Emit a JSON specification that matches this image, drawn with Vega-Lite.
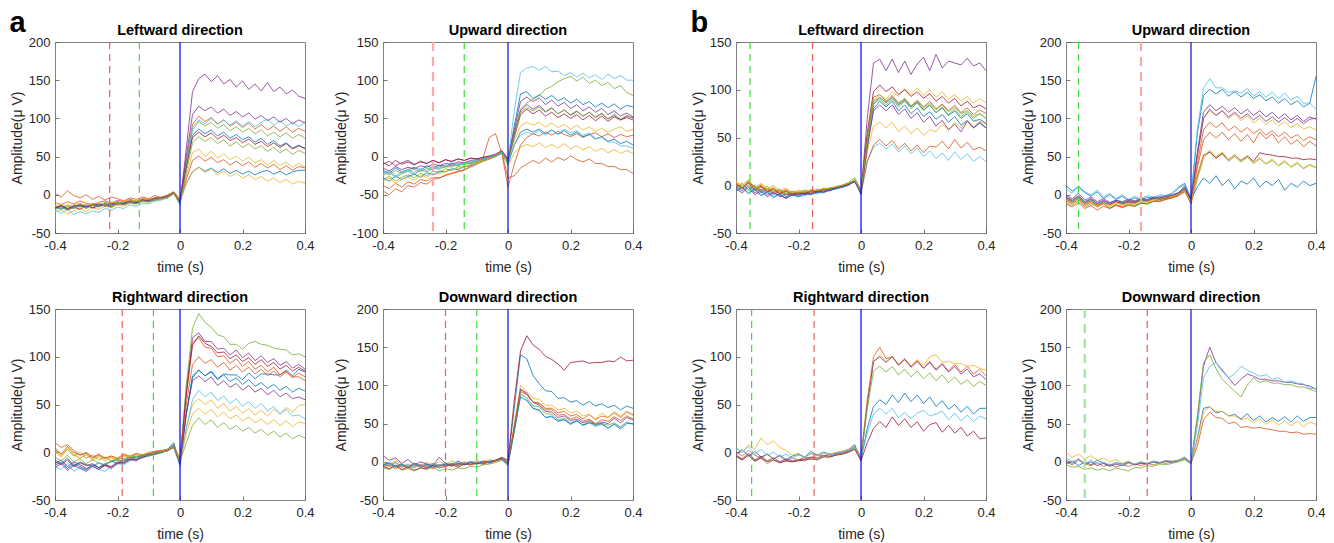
{
"$schema":"https://vega.github.io/schema/vega-lite/v6.json",
"background":"white",
"padding":{"left":9,"top":9,"right":5,"bottom":0},
"datasets":{
"times":[{"i":1,"t":-0.4},{"i":2,"t":-0.38},{"i":3,"t":-0.36},{"i":4,"t":-0.34},{"i":5,"t":-0.32},{"i":6,"t":-0.3},{"i":7,"t":-0.28},{"i":8,"t":-0.26},{"i":9,"t":-0.24},{"i":10,"t":-0.22},{"i":11,"t":-0.2},{"i":12,"t":-0.18},{"i":13,"t":-0.16},{"i":14,"t":-0.14},{"i":15,"t":-0.12},{"i":16,"t":-0.1},{"i":17,"t":-0.08},{"i":18,"t":-0.06},{"i":19,"t":-0.04},{"i":20,"t":-0.02},{"i":21,"t":0},{"i":22,"t":0.02},{"i":23,"t":0.04},{"i":24,"t":0.06},{"i":25,"t":0.08},{"i":26,"t":0.1},{"i":27,"t":0.12},{"i":28,"t":0.14},{"i":29,"t":0.16},{"i":30,"t":0.18},{"i":31,"t":0.2},{"i":32,"t":0.22},{"i":33,"t":0.24},{"i":34,"t":0.26},{"i":35,"t":0.28},{"i":36,"t":0.3},{"i":37,"t":0.32},{"i":38,"t":0.34},{"i":39,"t":0.36},{"i":40,"t":0.38},{"i":41,"t":0.4}],
"rl":[{"p":1,"t":-0.225,"k":"red"},{"p":1,"t":-0.13,"k":"green"},{"p":1,"t":0,"k":"blue"},
{"p":2,"t":-0.24,"k":"pink"},{"p":2,"t":-0.14,"k":"green"},{"p":2,"t":0,"k":"navy"},
{"p":3,"t":-0.185,"k":"red"},{"p":3,"t":-0.085,"k":"green"},{"p":3,"t":0,"k":"blue"},
{"p":4,"t":-0.2,"k":"red"},{"p":4,"t":-0.1,"k":"green"},{"p":4,"t":0,"k":"navy"},
{"p":5,"t":-0.355,"k":"green"},{"p":5,"t":-0.155,"k":"red"},{"p":5,"t":0,"k":"blue"},
{"p":6,"t":-0.36,"k":"green"},{"p":6,"t":-0.16,"k":"pink"},{"p":6,"t":0,"k":"navy"},
{"p":7,"t":-0.35,"k":"green"},{"p":7,"t":-0.15,"k":"red"},{"p":7,"t":0,"k":"blue"},
{"p":8,"t":-0.34,"k":"lgreen"},{"p":8,"t":-0.14,"k":"red"},{"p":8,"t":0,"k":"navy"}],
"tr":[
{"p":1,"s":0,"v":[-17,-14,-18,-15,-13,-16,-12,-15,-11,-13,-9,-12,-8,-10,-7,-6,-8,-3,-4,2,-9,38,78,86,80,85,77,82,74,79,72,76,69,74,66,71,64,68,61,65,60]},
{"p":1,"s":1,"v":[2,-3,5,-1,-4,0,-6,-2,-7,-3,-5,-8,-4,-6,-3,-5,-1,-4,0,4,-6,45,92,103,96,101,93,98,90,95,88,94,86,92,85,90,83,89,82,87,83]},
{"p":1,"s":2,"v":[-22,-20,-25,-21,-18,-22,-17,-19,-15,-17,-13,-15,-11,-12,-9,-10,-7,-6,-4,1,-10,25,55,60,50,57,48,54,46,51,44,49,42,46,39,45,38,43,36,41,36]},
{"p":1,"s":3,"v":[-18,-15,-19,-14,-16,-13,-17,-12,-14,-15,-10,-12,-8,-10,-6,-8,-4,-5,-2,3,-12,60,135,152,158,148,156,145,151,141,149,138,145,136,147,135,141,132,137,129,126]},
{"p":1,"s":4,"v":[-14,-18,-13,-16,-12,-15,-11,-14,-10,-12,-9,-11,-7,-9,-6,-7,-4,-5,-2,4,-7,40,85,96,90,95,87,92,84,89,82,87,80,85,77,82,76,81,74,79,74]},
{"p":1,"s":5,"v":[-20,-24,-19,-26,-22,-25,-21,-23,-18,-20,-16,-18,-13,-15,-11,-12,-8,-7,-4,2,-14,35,88,98,93,100,92,98,91,97,90,96,89,95,99,91,97,90,95,89,95]},
{"p":1,"s":6,"v":[-18,-15,-20,-16,-19,-14,-17,-15,-13,-16,-11,-13,-10,-11,-8,-9,-6,-5,-3,2,-8,35,75,82,76,81,73,78,71,75,68,73,66,70,63,68,62,67,60,64,61]},
{"p":1,"s":7,"v":[-16,-19,-15,-18,-14,-17,-13,-15,-12,-14,-10,-12,-9,-10,-7,-8,-5,-4,-2,3,-9,15,30,36,31,35,29,34,28,32,27,31,26,30,32,27,31,26,30,32,32]},
{"p":1,"s":8,"v":[-10,-13,-9,-12,-8,-11,-13,-10,-8,-11,-7,-9,-6,-8,-5,-6,-4,-3,-1,3,-6,20,45,51,44,49,42,46,39,44,38,43,36,41,35,40,33,38,32,37,35]},
{"p":1,"s":9,"v":[-15,-12,-16,-13,-11,-14,-12,-10,-13,-9,-11,-8,-10,-7,-8,-5,-6,-4,-3,2,-7,15,30,36,29,34,26,31,24,28,22,26,20,24,18,22,16,20,14,18,15]},
{"p":1,"s":10,"v":[-17,-14,-18,-15,-13,-16,-14,-12,-15,-11,-13,-10,-9,-11,-7,-8,-5,-4,-2,2,-10,50,105,116,110,115,107,112,104,109,102,107,99,104,97,102,95,100,93,98,94]},
{"p":1,"s":11,"v":[-19,-16,-20,-17,-15,-18,-14,-16,-13,-15,-11,-13,-10,-12,-8,-9,-6,-5,-3,2,-11,30,68,76,70,75,67,72,64,69,62,67,60,64,57,62,55,60,53,58,54]},
{"p":2,"s":0,"v":[-18,-22,-15,-20,-17,-14,-18,-12,-15,-11,-13,-9,-11,-8,-9,-6,-4,-2,1,6,-5,40,82,85,76,81,75,80,73,77,70,75,68,72,65,70,64,69,62,67,65]},
{"p":2,"s":1,"v":[-45,-50,-42,-46,-38,-40,-34,-36,-30,-28,-25,-22,-20,-18,-12,-8,-2,25,30,5,-40,-10,15,25,30,27,32,28,33,29,26,30,25,29,31,26,30,25,29,26,28]},
{"p":2,"s":2,"v":[-25,-20,-28,-22,-19,-24,-18,-20,-15,-17,-13,-14,-10,-11,-8,-6,-5,-1,3,8,-6,20,40,45,41,45,39,44,38,42,36,41,35,39,33,37,32,36,39,33,36]},
{"p":2,"s":3,"v":[-10,-6,-12,-8,-5,-10,-7,-9,-5,-8,-4,-6,-3,-5,-2,-3,-1,0,2,6,-4,35,72,78,72,77,68,74,66,71,63,68,60,65,58,63,55,60,53,57,52]},
{"p":2,"s":4,"v":[-30,-26,-32,-27,-24,-28,-22,-25,-19,-21,-16,-18,-13,-14,-10,-8,-6,-3,1,5,-8,30,62,70,75,80,88,92,98,102,105,99,104,96,100,93,97,89,93,84,80]},
{"p":2,"s":5,"v":[-22,-18,-25,-20,-17,-21,-15,-18,-13,-15,-11,-12,-9,-10,-7,-5,-3,-1,2,7,-5,60,110,116,118,113,118,111,112,106,110,104,109,103,107,101,108,102,106,100,100]},
{"p":2,"s":6,"v":[-8,-12,-5,-10,-7,-11,-6,-9,-5,-8,-4,-7,-3,-5,-2,-3,-1,1,3,8,-3,25,55,62,56,61,53,58,51,56,50,55,48,54,47,53,46,52,48,51,48]},
{"p":2,"s":7,"v":[-28,-32,-25,-30,-26,-23,-27,-21,-24,-19,-20,-16,-17,-13,-12,-9,-6,-3,0,4,-10,15,32,36,32,36,30,35,29,34,28,32,26,29,23,26,20,23,17,20,15]},
{"p":2,"s":8,"v":[-38,-42,-35,-40,-33,-36,-30,-32,-27,-28,-24,-22,-19,-17,-14,-10,-6,-3,0,6,-28,-25,-15,-10,-5,-9,-2,-7,-1,-5,1,-4,-7,-3,-9,-9,-13,-13,-17,-17,-22]},
{"p":2,"s":9,"v":[-32,-28,-35,-30,-27,-31,-25,-27,-22,-23,-19,-18,-15,-14,-11,-9,-6,-3,0,5,-12,5,12,16,13,18,12,16,11,17,10,14,9,13,7,11,5,9,4,8,4]},
{"p":2,"s":10,"v":[-15,-19,-13,-17,-14,-16,-12,-14,-10,-12,-9,-10,-7,-8,-5,-4,-3,-1,2,6,-6,30,60,68,62,67,59,64,56,61,54,59,53,58,51,56,49,54,48,53,51]},
{"p":2,"s":11,"v":[-20,-24,-18,-22,-19,-17,-20,-15,-17,-13,-14,-11,-12,-9,-8,-6,-4,-2,1,5,-7,28,58,64,60,65,58,63,56,61,55,60,53,58,52,57,50,55,49,54,50]},
{"p":2,"s":12,"v":[-24,-20,-27,-22,-19,-23,-17,-20,-15,-16,-12,-13,-10,-9,-7,-5,-3,-1,2,6,-8,15,28,32,29,34,28,35,30,36,31,34,28,31,24,25,19,19,14,14,11]},
{"p":3,"s":0,"v":[-8,-12,-6,-14,-10,-13,-15,-11,-14,-9,-12,-7,-8,-4,-6,-2,-1,0,3,8,-12,40,80,86,80,85,77,82,81,81,76,83,77,82,82,81,81,86,80,87,84]},
{"p":3,"s":1,"v":[10,5,8,2,-3,0,-5,-2,-6,-4,-7,-3,-5,-2,-3,-1,0,2,1,6,-8,60,115,120,110,109,100,101,93,98,90,95,87,91,84,89,81,85,79,79,75]},
{"p":3,"s":2,"v":[0,-5,3,-3,-6,-2,-8,-5,-9,-6,-8,-4,-6,-3,-4,-1,0,1,3,6,-10,25,50,56,50,55,46,51,43,48,41,46,39,44,38,45,40,47,42,49,50]},
{"p":3,"s":3,"v":[-12,-8,-15,-10,-13,-17,-14,-18,-13,-16,-11,-12,-8,-9,-5,-4,-2,0,2,5,-10,65,120,125,116,116,108,109,102,107,99,104,96,101,94,98,91,95,88,92,87]},
{"p":3,"s":4,"v":[5,-2,3,-4,0,-6,-3,-8,-5,-9,-6,-7,-4,-5,-2,-3,0,1,3,7,-8,70,130,145,136,131,123,121,113,113,108,114,116,113,112,109,108,107,102,103,100]},
{"p":3,"s":5,"v":[-15,-18,-12,-20,-16,-19,-14,-18,-20,-15,-12,-13,-9,-8,-6,-4,-2,-1,2,5,-15,25,55,65,58,63,54,59,51,56,48,53,46,51,43,48,40,45,38,39,35]},
{"p":3,"s":6,"v":[-10,-13,-8,-15,-11,-14,-12,-16,-13,-15,-10,-11,-7,-8,-5,-3,-2,0,2,6,-9,60,112,122,114,111,104,105,98,102,95,99,92,97,90,94,87,91,85,89,85]},
{"p":3,"s":7,"v":[-14,-10,-17,-12,-15,-18,-13,-16,-12,-10,-8,-9,-5,-6,-3,-2,0,1,3,10,-13,40,78,86,80,84,76,81,74,78,71,76,69,73,67,71,65,69,63,67,64]},
{"p":3,"s":8,"v":[3,-2,6,0,-3,-1,-6,-3,-7,-4,-6,-2,-4,-1,-3,0,1,2,3,7,-7,50,92,100,93,97,89,94,86,91,84,89,82,87,80,85,79,84,78,83,79]},
{"p":3,"s":9,"v":[2,-4,5,-2,-6,-3,-8,-4,-7,-5,-6,-3,-5,-2,-3,0,-1,1,3,6,-9,20,40,46,40,45,37,42,35,39,33,37,31,35,29,34,28,33,27,32,30]},
{"p":3,"s":10,"v":[-16,-12,-19,-14,-17,-20,-15,-18,-14,-17,-12,-10,-7,-8,-4,-3,-1,0,2,5,-12,40,75,80,74,79,70,75,68,72,65,70,63,67,60,65,58,62,56,58,55]},
{"p":3,"s":11,"v":[-5,-9,-3,-10,-7,-12,-8,-11,-13,-9,-8,-10,-6,-7,-4,-3,-1,0,2,5,-10,10,28,36,29,34,26,31,24,28,22,26,20,24,18,22,16,20,14,18,15]},
{"p":4,"s":0,"v":[-5,-2,-7,-4,-8,-5,-6,-3,-7,-4,-5,-2,-4,-1,-3,0,-2,1,2,5,0,70,140,135,113,102,93,92,83,84,78,80,74,79,73,76,71,74,68,73,70]},
{"p":4,"s":1,"v":[-3,-6,-1,-7,-4,-8,-3,-6,-2,-5,-3,-6,-2,-4,-1,-3,0,-2,1,3,-2,45,95,88,78,77,70,70,64,66,60,62,56,62,55,60,58,64,58,65,62]},
{"p":4,"s":2,"v":[0,-4,2,-3,-6,-2,-5,-1,-4,0,-3,1,-2,0,-1,2,0,3,1,4,-1,50,100,92,83,82,74,74,68,70,64,66,60,62,56,64,58,66,60,67,60]},
{"p":4,"s":3,"v":[8,2,5,-2,3,-4,0,-3,-5,6,-2,-4,1,-3,0,-2,1,-1,2,4,-3,45,95,90,78,74,66,65,58,60,54,56,51,54,49,52,50,57,51,58,55]},
{"p":4,"s":4,"v":[-8,-10,-6,-11,-9,-12,-8,-10,-7,-12,-9,-11,-8,-9,-6,-7,-4,-3,-1,2,-5,40,88,84,73,72,63,62,55,57,51,54,48,53,47,50,48,51,46,52,49]},
{"p":4,"s":5,"v":[-2,-5,0,-6,-3,-7,-4,-6,-2,-5,-1,-4,0,-3,1,-2,0,-1,2,3,-4,40,90,82,70,68,58,60,53,56,50,53,48,51,46,49,44,50,45,52,49]},
{"p":4,"s":6,"v":[-6,-9,-4,-10,-7,-11,-8,-9,-5,-8,-6,-4,-7,-3,-4,-2,-3,0,2,6,2,80,145,165,153,147,138,134,128,120,130,131,132,129,130,130,132,131,137,132,133]},
{"p":4,"s":7,"v":[-4,-1,-6,-3,-7,-2,-5,-8,-4,-6,-3,-5,-2,-4,-1,-3,0,-1,1,4,-2,40,85,80,70,67,58,59,53,55,49,54,48,51,49,50,44,49,43,50,50]},
{"p":4,"s":8,"v":[-7,-4,-9,-5,-8,-3,-7,-5,-9,-4,-6,-3,-5,-2,-4,-1,-2,0,2,4,-3,45,92,88,78,76,68,68,61,62,56,59,53,56,50,55,53,59,54,60,56]},
{"p":5,"s":0,"v":[-3,2,-5,0,-8,-4,-10,-6,-12,-8,-11,-7,-9,-6,-7,-5,-3,-2,0,5,-9,45,85,92,86,92,84,89,82,87,79,84,76,81,73,78,70,75,67,69,65]},
{"p":5,"s":1,"v":[2,-2,4,-3,0,-6,-3,-8,-5,-9,-7,-10,-6,-8,-4,-5,-2,-1,1,4,-6,48,92,95,88,94,86,91,83,89,82,88,80,85,78,84,76,81,74,79,75]},
{"p":5,"s":2,"v":[3,-1,5,-4,1,-5,-2,-7,-4,-8,-6,-9,-5,-7,-3,-4,-2,0,2,5,-7,45,88,95,90,98,93,101,95,102,94,100,92,98,90,95,88,93,86,91,86]},
{"p":5,"s":3,"v":[-2,-6,0,-8,-4,-10,-7,-12,-9,-11,-8,-10,-6,-8,-5,-6,-3,-2,0,4,-8,70,128,132,120,132,118,130,116,127,134,120,137,123,130,128,126,133,125,128,120]},
{"p":5,"s":4,"v":[0,-4,2,-6,-2,-8,-5,-10,-7,-11,-9,-8,-6,-7,-4,-3,-2,0,3,8,-5,48,88,92,87,92,85,90,83,88,81,86,79,84,77,82,75,78,72,75,70]},
{"p":5,"s":5,"v":[-5,-1,-8,-3,-10,-6,-12,-9,-14,-10,-12,-11,-8,-9,-6,-5,-3,-2,0,4,-10,25,40,44,38,43,35,41,33,39,30,36,28,34,26,35,27,33,25,30,25]},
{"p":5,"s":6,"v":[1,-3,3,-5,-1,-7,-4,-9,-6,-10,-8,-9,-6,-7,-4,-5,-2,-1,1,5,-6,55,98,105,98,103,95,100,93,98,91,96,88,93,86,91,83,88,81,84,80]},
{"p":5,"s":7,"v":[-6,-2,-9,-4,-11,-7,-13,-9,-14,-10,-12,-9,-10,-7,-8,-5,-4,-2,1,4,-8,40,80,88,82,88,78,84,75,81,72,77,69,74,66,72,63,68,60,65,60]},
{"p":5,"s":8,"v":[0,-4,3,-2,-6,-3,-8,-5,-10,-7,-9,-6,-8,-5,-6,-3,-2,-1,1,4,-7,25,42,48,41,47,38,44,36,42,34,41,40,46,38,48,39,45,37,40,36]},
{"p":5,"s":9,"v":[4,0,6,-2,2,-4,0,-6,-3,-8,-5,-7,-4,-6,-3,-4,-1,0,2,5,-6,35,62,66,60,66,56,62,54,60,52,58,56,64,58,66,60,68,61,67,64]},
{"p":5,"s":10,"v":[-4,-8,-2,-10,-6,-12,-8,-11,-13,-9,-10,-8,-9,-6,-7,-4,-3,-1,1,4,-9,40,78,84,78,84,74,80,70,76,66,72,62,68,58,64,56,67,60,66,60]},
{"p":5,"s":11,"v":[1,-3,4,-2,-5,-1,-7,-4,-9,-6,-8,-5,-7,-4,-5,-3,-2,0,2,6,-5,45,85,90,84,90,82,88,80,86,78,84,76,82,74,80,72,77,70,75,70]},
{"p":6,"s":0,"v":[12,5,10,3,-2,4,-5,0,-6,-2,-8,-4,-7,-3,-5,-2,-1,2,10,15,-5,80,130,138,132,138,129,135,128,134,126,131,123,128,120,126,118,123,115,120,155]},
{"p":6,"s":1,"v":[-8,-12,-6,-14,-10,-16,-12,-18,-14,-16,-13,-15,-11,-12,-9,-8,-6,-4,-1,5,-10,40,85,95,88,94,84,90,82,88,80,86,78,84,76,82,74,79,71,76,72]},
{"p":6,"s":2,"v":[-5,-9,-3,-11,-7,-13,-9,-15,-11,-13,-10,-12,-8,-9,-6,-5,-4,-2,1,8,-8,50,100,110,104,110,100,106,97,103,94,100,92,98,90,96,88,93,86,89,85]},
{"p":6,"s":3,"v":[-3,-7,-1,-9,-5,-11,-7,-12,-9,-11,-8,-10,-6,-8,-5,-4,-3,-1,2,12,-6,55,108,118,110,116,108,114,106,112,104,110,102,108,100,106,98,104,96,102,99]},
{"p":6,"s":4,"v":[-10,-14,-8,-16,-12,-15,-11,-17,-13,-15,-12,-14,-10,-11,-8,-7,-5,-3,0,6,-12,20,48,56,48,54,44,50,43,49,41,47,40,45,38,43,36,41,34,39,35]},
{"p":6,"s":5,"v":[8,2,12,4,0,6,-3,2,-5,0,-6,-2,-5,-1,-3,0,-1,2,8,14,-4,85,140,152,140,140,134,136,133,139,129,135,128,134,126,133,124,129,120,120,112]},
{"p":6,"s":6,"v":[-6,-10,-4,-12,-8,-14,-10,-13,-9,-12,-10,-11,-7,-9,-5,-6,-4,-2,1,7,-7,25,52,56,48,54,46,52,45,51,44,55,53,52,50,50,48,48,46,47,46]},
{"p":6,"s":7,"v":[-4,-8,-2,-10,-6,-12,-8,-11,-7,-10,-8,-9,-6,-7,-4,-5,-3,-1,2,8,-6,10,22,15,25,12,20,8,18,14,22,10,18,12,20,6,15,10,18,12,15]},
{"p":6,"s":8,"v":[-12,-16,-10,-18,-14,-20,-15,-18,-13,-17,-14,-15,-11,-12,-8,-9,-6,-4,-1,4,-12,35,72,82,74,82,72,80,70,79,68,82,73,80,68,76,66,72,63,70,64]},
{"p":6,"s":9,"v":[-7,-11,-5,-13,-9,-15,-11,-14,-10,-13,-11,-12,-8,-9,-6,-5,-3,-2,1,6,-9,25,50,58,50,56,46,52,44,50,42,49,41,47,39,45,37,43,35,40,36]},
{"p":6,"s":10,"v":[-1,-5,2,-7,-3,-9,-5,-10,-7,-9,-6,-8,-5,-6,-3,-4,-2,0,3,10,-5,50,100,112,104,110,102,108,100,106,98,104,96,102,95,101,94,100,93,99,100]},
{"p":7,"s":0,"v":[-2,3,-4,1,-5,-2,-7,-3,-8,-4,-2,-5,1,-3,0,-2,-1,1,3,8,-8,25,48,55,50,60,52,62,53,60,51,58,48,54,45,50,42,48,40,46,46]},
{"p":7,"s":1,"v":[0,-4,2,-3,-6,-2,-7,-4,-9,-6,-8,-5,-6,-3,-4,-2,-1,0,2,6,-5,55,100,110,98,100,92,98,90,96,88,95,87,93,85,92,84,90,82,87,80]},
{"p":7,"s":2,"v":[5,0,8,3,15,8,12,5,2,-3,-1,-5,-2,-4,-1,-2,0,1,3,6,-4,50,95,102,95,101,92,98,90,97,91,100,102,94,95,93,93,90,91,88,86]},
{"p":7,"s":3,"v":[-3,-7,-1,-8,-4,-9,-6,-10,-7,-9,-8,-7,-5,-6,-3,-4,-2,-1,1,5,-7,50,95,100,94,100,91,97,89,95,88,94,86,92,84,90,82,87,79,82,76]},
{"p":7,"s":4,"v":[-5,-8,-3,-10,-6,-12,-8,-11,-9,-10,-8,-9,-6,-7,-4,-5,-3,-2,0,4,-6,45,85,90,84,90,81,87,79,85,77,83,75,81,73,79,71,76,69,74,70]},
{"p":7,"s":5,"v":[4,0,6,-2,3,-3,0,-5,-2,-6,-3,-5,-1,-3,0,-2,-1,0,2,5,-6,20,40,46,40,46,36,42,35,41,44,38,40,43,34,41,33,39,32,38,35]},
{"p":7,"s":6,"v":[-4,-8,-3,-9,-6,-10,-8,-11,-9,-10,-9,-8,-7,-8,-5,-5,-3,-2,0,3,-9,10,25,32,26,37,28,35,26,32,22,29,31,21,28,20,26,17,22,14,15]},
{"p":8,"s":0,"v":[-3,1,-5,0,-4,2,-2,-5,-1,-3,0,-4,-1,-3,0,-2,1,-1,2,5,-2,30,70,72,64,66,60,62,56,63,54,60,52,58,53,59,52,60,53,58,58]},
{"p":8,"s":1,"v":[0,-4,2,-3,-5,-1,-6,-3,-7,-4,-6,-3,-5,-2,-4,-1,-2,0,1,3,-2,20,55,65,58,57,50,52,45,46,44,45,43,42,40,40,38,39,36,37,36]},
{"p":8,"s":2,"v":[12,6,10,4,8,2,5,0,3,-2,1,-3,0,-2,1,-1,0,2,1,4,0,28,65,72,66,66,60,60,55,57,51,56,49,55,48,54,47,53,46,52,49]},
{"p":8,"s":3,"v":[2,-2,4,-3,0,-5,-2,-6,-3,-5,-1,-4,-2,-3,0,-1,1,0,2,6,-1,55,125,150,130,120,110,100,108,115,112,108,108,106,106,104,104,102,101,99,95]},
{"p":8,"s":4,"v":[-4,-7,-6,-10,-8,-11,-9,-12,-8,-10,-12,-7,-8,-5,-6,-3,-4,-2,0,3,-3,60,130,140,122,108,100,92,85,100,110,104,106,103,103,101,101,98,98,95,92]},
{"p":8,"s":5,"v":[5,0,3,-2,2,-3,0,-4,-1,-5,-2,-3,0,-2,1,-1,2,0,2,5,-1,45,110,125,130,118,110,115,125,120,116,112,114,108,110,104,106,103,102,96,96]}
]},
"hconcat":[
{"title":{"text":"a","anchor":"start","frame":"bounds","fontSize":29,"fontWeight":"bold","offset":0,"dy":16},
 "spacing":14,
 "vconcat":[
 {"spacing":18,"hconcat":[
  {"title":{"text":"Leftward direction","offset":-2},"width":250,"height":191,"resolve":{"scale":{"color":"independent"}},"layer":[
   {"data":{"name":"tr"},"transform":[{"filter":"datum.p==1"},{"flatten":["v"]},{"window":[{"op":"row_number","as":"i"}],"groupby":["s"]},{"lookup":"i","from":{"data":{"name":"times"},"key":"i","fields":["t"]}}],
    "mark":{"type":"line","strokeWidth":0.8,"clip":true},
    "encoding":{"x":{"field":"t","type":"quantitative","scale":{"domain":[-0.4,0.4],"nice":false},"axis":{"values":[-0.4,-0.2,0,0.2,0.4],"title":"time (s)"}},
     "y":{"field":"v","type":"quantitative","scale":{"domain":[-50,200],"nice":false},"axis":{"values":[-50,0,50,100,150,200],"title":"Amplitude(μ V)","minExtent":27,"maxExtent":27}},
     "color":{"field":"s","type":"nominal","scale":{"domain":[0,1,2,3,4,5,6,7,8,9,10,11,12,13],"range":["#0072BD","#D95319","#EDB120","#7E2F8E","#77AC30","#4DBEEE","#A2142F","#0072BD","#D95319","#EDB120","#7E2F8E","#77AC30","#4DBEEE","#A2142F"]},"legend":null}}},
   {"data":{"name":"rl"},"transform":[{"filter":"datum.p==1"}],"mark":{"type":"rule"},
    "encoding":{"x":{"field":"t","type":"quantitative"},
     "color":{"field":"k","type":"nominal","scale":{"domain":["red","green","pink","lgreen","blue","navy"],"range":["#e8605a","#3ddc3d","#ffa8a8","#9be89b","#0000ff","#1010c8"]},"legend":null},
     "strokeDash":{"field":"k","type":"nominal","scale":{"domain":["red","green","pink","lgreen","blue","navy"],"range":[[7,5],[7,5],[9,6],[9,6],[1,0],[1,0]]},"legend":null},
     "strokeWidth":{"field":"k","type":"ordinal","scale":{"type":"ordinal","domain":["red","green","pink","lgreen","blue","navy"],"range":[1.2,1.2,2.2,2.2,1.2,1.2]},"legend":null}}}
  ]},
  {"title":{"text":"Upward direction","offset":-2},"width":250,"height":191,"resolve":{"scale":{"color":"independent"}},"layer":[
   {"data":{"name":"tr"},"transform":[{"filter":"datum.p==2"},{"flatten":["v"]},{"window":[{"op":"row_number","as":"i"}],"groupby":["s"]},{"lookup":"i","from":{"data":{"name":"times"},"key":"i","fields":["t"]}}],
    "mark":{"type":"line","strokeWidth":0.8,"clip":true},
    "encoding":{"x":{"field":"t","type":"quantitative","scale":{"domain":[-0.4,0.4],"nice":false},"axis":{"values":[-0.4,-0.2,0,0.2,0.4],"title":"time (s)"}},
     "y":{"field":"v","type":"quantitative","scale":{"domain":[-100,150],"nice":false},"axis":{"values":[-100,-50,0,50,100,150],"title":"Amplitude(μ V)","minExtent":31,"maxExtent":31}},
     "color":{"field":"s","type":"nominal","scale":{"domain":[0,1,2,3,4,5,6,7,8,9,10,11,12,13],"range":["#0072BD","#D95319","#EDB120","#7E2F8E","#77AC30","#4DBEEE","#A2142F","#0072BD","#D95319","#EDB120","#7E2F8E","#77AC30","#4DBEEE","#A2142F"]},"legend":null}}},
   {"data":{"name":"rl"},"transform":[{"filter":"datum.p==2"}],"mark":{"type":"rule"},
    "encoding":{"x":{"field":"t","type":"quantitative"},
     "color":{"field":"k","type":"nominal","scale":{"domain":["red","green","pink","lgreen","blue","navy"],"range":["#e8605a","#3ddc3d","#ffa8a8","#9be89b","#0000ff","#1010c8"]},"legend":null},
     "strokeDash":{"field":"k","type":"nominal","scale":{"domain":["red","green","pink","lgreen","blue","navy"],"range":[[7,5],[7,5],[9,6],[9,6],[1,0],[1,0]]},"legend":null},
     "strokeWidth":{"field":"k","type":"ordinal","scale":{"type":"ordinal","domain":["red","green","pink","lgreen","blue","navy"],"range":[1.2,1.2,2.2,2.2,1.2,1.2]},"legend":null}}}
  ]}
 ]},
 {"spacing":18,"hconcat":[
  {"title":{"text":"Rightward direction","offset":-2},"width":250,"height":191,"resolve":{"scale":{"color":"independent"}},"layer":[
   {"data":{"name":"tr"},"transform":[{"filter":"datum.p==3"},{"flatten":["v"]},{"window":[{"op":"row_number","as":"i"}],"groupby":["s"]},{"lookup":"i","from":{"data":{"name":"times"},"key":"i","fields":["t"]}}],
    "mark":{"type":"line","strokeWidth":0.8,"clip":true},
    "encoding":{"x":{"field":"t","type":"quantitative","scale":{"domain":[-0.4,0.4],"nice":false},"axis":{"values":[-0.4,-0.2,0,0.2,0.4],"title":"time (s)"}},
     "y":{"field":"v","type":"quantitative","scale":{"domain":[-50,150],"nice":false},"axis":{"values":[-50,0,50,100,150],"title":"Amplitude(μ V)","minExtent":27,"maxExtent":27}},
     "color":{"field":"s","type":"nominal","scale":{"domain":[0,1,2,3,4,5,6,7,8,9,10,11,12,13],"range":["#0072BD","#D95319","#EDB120","#7E2F8E","#77AC30","#4DBEEE","#A2142F","#0072BD","#D95319","#EDB120","#7E2F8E","#77AC30","#4DBEEE","#A2142F"]},"legend":null}}},
   {"data":{"name":"rl"},"transform":[{"filter":"datum.p==3"}],"mark":{"type":"rule"},
    "encoding":{"x":{"field":"t","type":"quantitative"},
     "color":{"field":"k","type":"nominal","scale":{"domain":["red","green","pink","lgreen","blue","navy"],"range":["#e8605a","#3ddc3d","#ffa8a8","#9be89b","#0000ff","#1010c8"]},"legend":null},
     "strokeDash":{"field":"k","type":"nominal","scale":{"domain":["red","green","pink","lgreen","blue","navy"],"range":[[7,5],[7,5],[9,6],[9,6],[1,0],[1,0]]},"legend":null},
     "strokeWidth":{"field":"k","type":"ordinal","scale":{"type":"ordinal","domain":["red","green","pink","lgreen","blue","navy"],"range":[1.2,1.2,2.2,2.2,1.2,1.2]},"legend":null}}}
  ]},
  {"title":{"text":"Downward direction","offset":-2},"width":250,"height":191,"resolve":{"scale":{"color":"independent"}},"layer":[
   {"data":{"name":"tr"},"transform":[{"filter":"datum.p==4"},{"flatten":["v"]},{"window":[{"op":"row_number","as":"i"}],"groupby":["s"]},{"lookup":"i","from":{"data":{"name":"times"},"key":"i","fields":["t"]}}],
    "mark":{"type":"line","strokeWidth":0.8,"clip":true},
    "encoding":{"x":{"field":"t","type":"quantitative","scale":{"domain":[-0.4,0.4],"nice":false},"axis":{"values":[-0.4,-0.2,0,0.2,0.4],"title":"time (s)"}},
     "y":{"field":"v","type":"quantitative","scale":{"domain":[-50,200],"nice":false},"axis":{"values":[-50,0,50,100,150,200],"title":"Amplitude(μ V)","minExtent":31,"maxExtent":31}},
     "color":{"field":"s","type":"nominal","scale":{"domain":[0,1,2,3,4,5,6,7,8,9,10,11,12,13],"range":["#0072BD","#D95319","#EDB120","#7E2F8E","#77AC30","#4DBEEE","#A2142F","#0072BD","#D95319","#EDB120","#7E2F8E","#77AC30","#4DBEEE","#A2142F"]},"legend":null}}},
   {"data":{"name":"rl"},"transform":[{"filter":"datum.p==4"}],"mark":{"type":"rule"},
    "encoding":{"x":{"field":"t","type":"quantitative"},
     "color":{"field":"k","type":"nominal","scale":{"domain":["red","green","pink","lgreen","blue","navy"],"range":["#e8605a","#3ddc3d","#ffa8a8","#9be89b","#0000ff","#1010c8"]},"legend":null},
     "strokeDash":{"field":"k","type":"nominal","scale":{"domain":["red","green","pink","lgreen","blue","navy"],"range":[[7,5],[7,5],[9,6],[9,6],[1,0],[1,0]]},"legend":null},
     "strokeWidth":{"field":"k","type":"ordinal","scale":{"type":"ordinal","domain":["red","green","pink","lgreen","blue","navy"],"range":[1.2,1.2,2.2,2.2,1.2,1.2]},"legend":null}}}
  ]}
 ]}
 ]},
{"title":{"text":"b","anchor":"start","frame":"bounds","fontSize":29,"fontWeight":"bold","offset":0,"dy":16},
 "spacing":14,
 "vconcat":[
 {"spacing":24,"hconcat":[
  {"title":{"text":"Leftward direction","offset":-2},"width":250,"height":191,"resolve":{"scale":{"color":"independent"}},"layer":[
   {"data":{"name":"tr"},"transform":[{"filter":"datum.p==5"},{"flatten":["v"]},{"window":[{"op":"row_number","as":"i"}],"groupby":["s"]},{"lookup":"i","from":{"data":{"name":"times"},"key":"i","fields":["t"]}}],
    "mark":{"type":"line","strokeWidth":0.8,"clip":true},
    "encoding":{"x":{"field":"t","type":"quantitative","scale":{"domain":[-0.4,0.4],"nice":false},"axis":{"values":[-0.4,-0.2,0,0.2,0.4],"title":"time (s)"}},
     "y":{"field":"v","type":"quantitative","scale":{"domain":[-50,150],"nice":false},"axis":{"values":[-50,0,50,100,150],"title":"Amplitude(μ V)","minExtent":27,"maxExtent":27}},
     "color":{"field":"s","type":"nominal","scale":{"domain":[0,1,2,3,4,5,6,7,8,9,10,11,12,13],"range":["#0072BD","#D95319","#EDB120","#7E2F8E","#77AC30","#4DBEEE","#A2142F","#0072BD","#D95319","#EDB120","#7E2F8E","#77AC30","#4DBEEE","#A2142F"]},"legend":null}}},
   {"data":{"name":"rl"},"transform":[{"filter":"datum.p==5"}],"mark":{"type":"rule"},
    "encoding":{"x":{"field":"t","type":"quantitative"},
     "color":{"field":"k","type":"nominal","scale":{"domain":["red","green","pink","lgreen","blue","navy"],"range":["#e8605a","#3ddc3d","#ffa8a8","#9be89b","#0000ff","#1010c8"]},"legend":null},
     "strokeDash":{"field":"k","type":"nominal","scale":{"domain":["red","green","pink","lgreen","blue","navy"],"range":[[7,5],[7,5],[9,6],[9,6],[1,0],[1,0]]},"legend":null},
     "strokeWidth":{"field":"k","type":"ordinal","scale":{"type":"ordinal","domain":["red","green","pink","lgreen","blue","navy"],"range":[1.2,1.2,2.2,2.2,1.2,1.2]},"legend":null}}}
  ]},
  {"title":{"text":"Upward direction","offset":-2},"width":250,"height":191,"resolve":{"scale":{"color":"independent"}},"layer":[
   {"data":{"name":"tr"},"transform":[{"filter":"datum.p==6"},{"flatten":["v"]},{"window":[{"op":"row_number","as":"i"}],"groupby":["s"]},{"lookup":"i","from":{"data":{"name":"times"},"key":"i","fields":["t"]}}],
    "mark":{"type":"line","strokeWidth":0.8,"clip":true},
    "encoding":{"x":{"field":"t","type":"quantitative","scale":{"domain":[-0.4,0.4],"nice":false},"axis":{"values":[-0.4,-0.2,0,0.2,0.4],"title":"time (s)"}},
     "y":{"field":"v","type":"quantitative","scale":{"domain":[-50,200],"nice":false},"axis":{"values":[-50,0,50,100,150,200],"title":"Amplitude(μ V)","minExtent":27,"maxExtent":27}},
     "color":{"field":"s","type":"nominal","scale":{"domain":[0,1,2,3,4,5,6,7,8,9,10,11,12,13],"range":["#0072BD","#D95319","#EDB120","#7E2F8E","#77AC30","#4DBEEE","#A2142F","#0072BD","#D95319","#EDB120","#7E2F8E","#77AC30","#4DBEEE","#A2142F"]},"legend":null}}},
   {"data":{"name":"rl"},"transform":[{"filter":"datum.p==6"}],"mark":{"type":"rule"},
    "encoding":{"x":{"field":"t","type":"quantitative"},
     "color":{"field":"k","type":"nominal","scale":{"domain":["red","green","pink","lgreen","blue","navy"],"range":["#e8605a","#3ddc3d","#ffa8a8","#9be89b","#0000ff","#1010c8"]},"legend":null},
     "strokeDash":{"field":"k","type":"nominal","scale":{"domain":["red","green","pink","lgreen","blue","navy"],"range":[[7,5],[7,5],[9,6],[9,6],[1,0],[1,0]]},"legend":null},
     "strokeWidth":{"field":"k","type":"ordinal","scale":{"type":"ordinal","domain":["red","green","pink","lgreen","blue","navy"],"range":[1.2,1.2,2.2,2.2,1.2,1.2]},"legend":null}}}
  ]}
 ]},
 {"spacing":24,"hconcat":[
  {"title":{"text":"Rightward direction","offset":-2},"width":250,"height":191,"resolve":{"scale":{"color":"independent"}},"layer":[
   {"data":{"name":"tr"},"transform":[{"filter":"datum.p==7"},{"flatten":["v"]},{"window":[{"op":"row_number","as":"i"}],"groupby":["s"]},{"lookup":"i","from":{"data":{"name":"times"},"key":"i","fields":["t"]}}],
    "mark":{"type":"line","strokeWidth":0.8,"clip":true},
    "encoding":{"x":{"field":"t","type":"quantitative","scale":{"domain":[-0.4,0.4],"nice":false},"axis":{"values":[-0.4,-0.2,0,0.2,0.4],"title":"time (s)"}},
     "y":{"field":"v","type":"quantitative","scale":{"domain":[-50,150],"nice":false},"axis":{"values":[-50,0,50,100,150],"title":"Amplitude(μ V)","minExtent":27,"maxExtent":27}},
     "color":{"field":"s","type":"nominal","scale":{"domain":[0,1,2,3,4,5,6,7,8,9,10,11,12,13],"range":["#0072BD","#D95319","#EDB120","#7E2F8E","#77AC30","#4DBEEE","#A2142F","#0072BD","#D95319","#EDB120","#7E2F8E","#77AC30","#4DBEEE","#A2142F"]},"legend":null}}},
   {"data":{"name":"rl"},"transform":[{"filter":"datum.p==7"}],"mark":{"type":"rule"},
    "encoding":{"x":{"field":"t","type":"quantitative"},
     "color":{"field":"k","type":"nominal","scale":{"domain":["red","green","pink","lgreen","blue","navy"],"range":["#e8605a","#3ddc3d","#ffa8a8","#9be89b","#0000ff","#1010c8"]},"legend":null},
     "strokeDash":{"field":"k","type":"nominal","scale":{"domain":["red","green","pink","lgreen","blue","navy"],"range":[[7,5],[7,5],[9,6],[9,6],[1,0],[1,0]]},"legend":null},
     "strokeWidth":{"field":"k","type":"ordinal","scale":{"type":"ordinal","domain":["red","green","pink","lgreen","blue","navy"],"range":[1.2,1.2,2.2,2.2,1.2,1.2]},"legend":null}}}
  ]},
  {"title":{"text":"Downward direction","offset":-2},"width":250,"height":191,"resolve":{"scale":{"color":"independent"}},"layer":[
   {"data":{"name":"tr"},"transform":[{"filter":"datum.p==8"},{"flatten":["v"]},{"window":[{"op":"row_number","as":"i"}],"groupby":["s"]},{"lookup":"i","from":{"data":{"name":"times"},"key":"i","fields":["t"]}}],
    "mark":{"type":"line","strokeWidth":0.8,"clip":true},
    "encoding":{"x":{"field":"t","type":"quantitative","scale":{"domain":[-0.4,0.4],"nice":false},"axis":{"values":[-0.4,-0.2,0,0.2,0.4],"title":"time (s)"}},
     "y":{"field":"v","type":"quantitative","scale":{"domain":[-50,200],"nice":false},"axis":{"values":[-50,0,50,100,150,200],"title":"Amplitude(μ V)","minExtent":27,"maxExtent":27}},
     "color":{"field":"s","type":"nominal","scale":{"domain":[0,1,2,3,4,5,6,7,8,9,10,11,12,13],"range":["#0072BD","#D95319","#EDB120","#7E2F8E","#77AC30","#4DBEEE","#A2142F","#0072BD","#D95319","#EDB120","#7E2F8E","#77AC30","#4DBEEE","#A2142F"]},"legend":null}}},
   {"data":{"name":"rl"},"transform":[{"filter":"datum.p==8"}],"mark":{"type":"rule"},
    "encoding":{"x":{"field":"t","type":"quantitative"},
     "color":{"field":"k","type":"nominal","scale":{"domain":["red","green","pink","lgreen","blue","navy"],"range":["#e8605a","#3ddc3d","#ffa8a8","#9be89b","#0000ff","#1010c8"]},"legend":null},
     "strokeDash":{"field":"k","type":"nominal","scale":{"domain":["red","green","pink","lgreen","blue","navy"],"range":[[7,5],[7,5],[9,6],[9,6],[1,0],[1,0]]},"legend":null},
     "strokeWidth":{"field":"k","type":"ordinal","scale":{"type":"ordinal","domain":["red","green","pink","lgreen","blue","navy"],"range":[1.2,1.2,2.2,2.2,1.2,1.2]},"legend":null}}}
  ]}
 ]}
 ]}
],
"spacing":47,
"config":{
 "font":"Liberation Sans",
 "view":{"stroke":"#808080","strokeWidth":1},
 "axis":{"grid":false,"domain":false,"ticks":true,"tickSize":-4,"tickColor":"#555555","tickWidth":0.8,"labelFont":"Liberation Sans","labelFontSize":13,"labelColor":"#262626","labelFlush":false,"labelOverlap":false,"labelExpr":"'' + datum.value","titleFont":"Liberation Sans","titleFontSize":14,"titleFontWeight":"normal","titleColor":"#262626"},
 "axisX":{"labelPadding":10,"titlePadding":8},
 "axisY":{"labelPadding":9,"titlePadding":4},
 "title":{"font":"Liberation Sans","fontSize":14.5,"fontWeight":"bold","color":"#000000","frame":"group"}
}
}
